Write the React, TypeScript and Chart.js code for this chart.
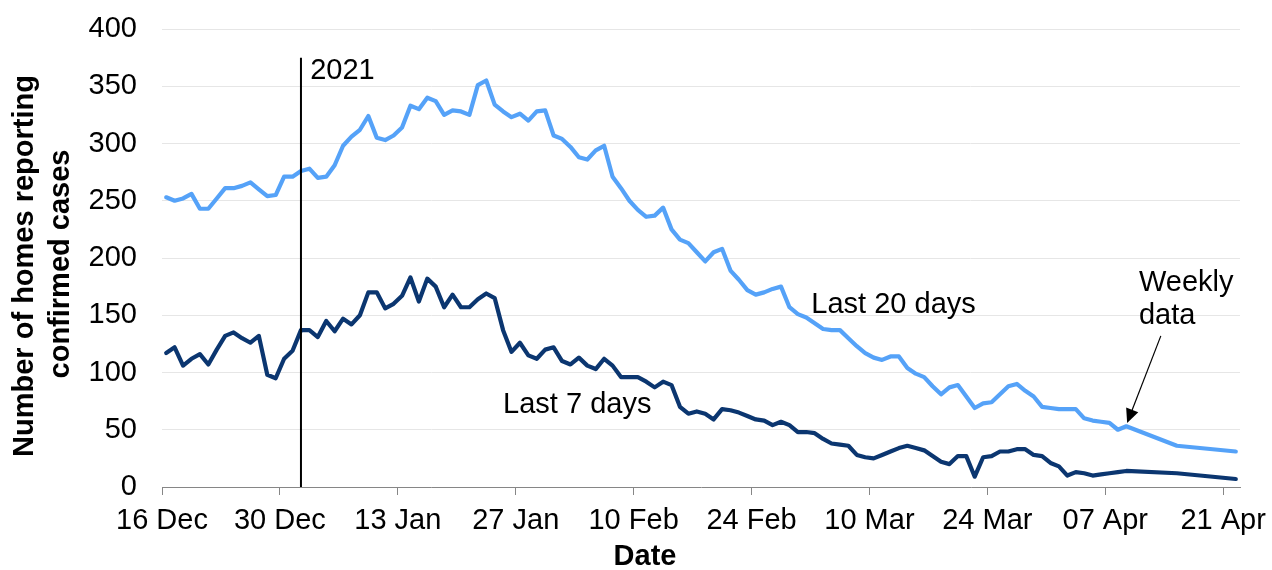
import { useEffect, useRef } from 'react';
import { Chart, registerables } from 'chart.js';

Chart.register(...registerables);

// X axis: days since 16 Dec 2020 (axis covers 16 Dec .. 22 Apr, 128 days)
const tickLabels = ['16 Dec', '30 Dec', '13 Jan', '27 Jan', '10 Feb', '24 Feb', '10 Mar', '24 Mar', '07 Apr', '21 Apr'];
const tickDays = [0, 14, 28, 42, 56, 70, 84, 98, 112, 126];
const axisDays = 128;

// Daily values, one per day from 16 Dec (day 0) to 9 Apr (day 114)
const last20Daily = [
  253, 250, 252, 256, 243, 243, 252, 261, 261, 263,
  266, 260, 254, 255, 271, 271, 276, 278, 270, 271,
  281, 298, 306, 312, 324, 305, 303, 307, 314, 333,
  330, 340, 337, 325, 329, 328, 325, 351, 355, 334,
  328, 323, 326, 320, 328, 329, 307, 304, 297, 288,
  286, 294, 298, 271, 261, 250, 242, 236, 237, 244,
  225, 216, 213, 205, 197, 205, 208, 189, 181, 172,
  168, 170, 173, 175, 157, 151, 148, 143, 138, 137,
  137, 130, 123, 117, 113, 111, 114, 114, 104, 99,
  96, 88, 81, 87, 89, 79, 69, 73, 74, 81,
  88, 90, 84, 79, 70, 69, 68, 68, 68, 60,
  58, 57, 56, 50, 53,
];

const last7Daily = [
  117, 122, 106, 112, 116, 107, 120, 132, 135, 130,
  126, 132, 98, 95, 112, 119, 137, 137, 131, 145,
  136, 147, 142, 150, 170, 170, 156, 160, 167, 183,
  162, 182, 175, 157, 168, 157, 157, 164, 169, 165,
  137, 118, 126, 115, 112, 120, 122, 110, 107, 113,
  106, 103, 112, 106, 96, 96, 96, 92, 87, 92,
  89, 70, 64, 66, 64, 59, 68, 67, 65, 62,
  59, 58, 54, 57, 54, 48, 48, 47, 42, 38,
  37, 36, 28, 26, 25, 28, 31, 34, 36, 34,
  32, 27, 22, 20, 27, 27, 9, 26, 27, 31,
  31, 33, 33, 28, 27, 21, 18, 10, 13, 12,
  10, 11, 12, 13, 14,
];

// Weekly data after the daily series
const weeklyDays = [120, 127];
const last20Weekly = [36, 31];
const last7Weekly = [12, 7];

const yTicksMax = 400;
const yTicksStep = 50;

// Annotation settings (in data units)
const yearLine = { day: 16.5, top: 375, text: '2021', textDay: 17.6, textValue: 363 };
const seriesLabels = [
  { text: 'Last 20 days', day: 77.1, value: 159 },
  { text: 'Last 7 days', day: 40.5, value: 71.6 },
  { text: 'Weekly', day: 116, value: 178 },
  { text: 'data', day: 116, value: 149.5 },
];
const arrow = { fromDay: 118.6, fromValue: 132, toDay: 114.6, toValue: 56 };

const FONT = '"Liberation Sans", Arial, Helvetica, sans-serif';

const toPoints = (daily: number[], wDays: number[], wVals: number[]) => [
  ...daily.map((v, i) => ({ x: i + 0.5, y: v })),
  ...wDays.map((d, i) => ({ x: d + 0.5, y: wVals[i] })),
];

const annotationPlugin = {
  id: 'annotations',
  afterDatasetsDraw(chart: any) {
    const { ctx, scales, chartArea } = chart;
    const x = scales.x;
    const y = scales.y;
    ctx.save();

    // 2021 vertical line
    const lx = x.getPixelForValue(yearLine.day);
    ctx.strokeStyle = '#000';
    ctx.lineWidth = 2;
    ctx.beginPath();
    ctx.moveTo(lx, y.getPixelForValue(yearLine.top));
    ctx.lineTo(lx, chartArea.bottom);
    ctx.stroke();

    ctx.fillStyle = '#000';
    ctx.font = `29px ${FONT}`;
    ctx.textAlign = 'left';
    ctx.textBaseline = 'middle';
    ctx.fillText(yearLine.text, x.getPixelForValue(yearLine.textDay), y.getPixelForValue(yearLine.textValue));

    for (const l of seriesLabels) {
      ctx.fillText(l.text, x.getPixelForValue(l.day), y.getPixelForValue(l.value));
    }

    // Arrow
    const ax1 = x.getPixelForValue(arrow.fromDay);
    const ay1 = y.getPixelForValue(arrow.fromValue);
    const ax2 = x.getPixelForValue(arrow.toDay);
    const ay2 = y.getPixelForValue(arrow.toValue);
    const ang = Math.atan2(ay2 - ay1, ax2 - ax1);
    const headLen = 14;
    const headHalf = 6.5;
    ctx.lineWidth = 1.2;
    ctx.beginPath();
    ctx.moveTo(ax1, ay1);
    ctx.lineTo(ax2 - Math.cos(ang) * headLen * 0.8, ay2 - Math.sin(ang) * headLen * 0.8);
    ctx.stroke();
    const bx = ax2 - Math.cos(ang) * headLen;
    const by = ay2 - Math.sin(ang) * headLen;
    ctx.beginPath();
    ctx.moveTo(ax2, ay2);
    ctx.lineTo(bx + Math.sin(ang) * headHalf, by - Math.cos(ang) * headHalf);
    ctx.lineTo(bx - Math.sin(ang) * headHalf, by + Math.cos(ang) * headHalf);
    ctx.closePath();
    ctx.fill();

    // Axis titles
    ctx.font = `bold 29px ${FONT}`;
    ctx.textAlign = 'center';
    ctx.fillText('Date', 645, 557);

    ctx.save();
    ctx.translate(24.5, 266);
    ctx.rotate(-Math.PI / 2);
    ctx.fillText('Number of homes reporting', 0, 0);
    ctx.restore();
    ctx.save();
    ctx.translate(61, 264);
    ctx.rotate(-Math.PI / 2);
    ctx.fillText('confirmed cases', 0, 0);
    ctx.restore();

    ctx.restore();
  },
};

export default function App() {
  const canvasRef = useRef<HTMLCanvasElement | null>(null);

  useEffect(() => {
    if (!canvasRef.current) return;
    const chart = new Chart(canvasRef.current, {
      type: 'line',
      data: {
        datasets: [
          {
            label: 'Last 20 days',
            data: toPoints(last20Daily, weeklyDays, last20Weekly),
            borderColor: '#55a2f8',
            backgroundColor: '#55a2f8',
            borderWidth: 4.2,
            pointRadius: 0,
            tension: 0,
            borderJoinStyle: 'round',
            borderCapStyle: 'round',
          },
          {
            label: 'Last 7 days',
            data: toPoints(last7Daily, weeklyDays, last7Weekly),
            borderColor: '#0b3670',
            backgroundColor: '#0b3670',
            borderWidth: 4.2,
            pointRadius: 0,
            tension: 0,
            borderJoinStyle: 'round',
            borderCapStyle: 'round',
          },
        ],
      },
      options: {
        responsive: false,
        maintainAspectRatio: false,
        animation: false,
        layout: { padding: { top: 29, right: 32, bottom: 0, left: 0 } },
        plugins: {
          legend: { display: false },
          tooltip: { enabled: false },
        },
        scales: {
          x: {
            type: 'linear',
            min: 0,
            max: axisDays,
            afterBuildTicks: (s: any) => {
              s.ticks = tickDays.map((v) => ({ value: v }));
            },
            afterFit: (s: any) => {
              s.height = 83;
            },
            ticks: {
              autoSkip: false,
              maxRotation: 0,
              minRotation: 0,
              padding: 1,
              color: '#000',
              font: { family: FONT, size: 29, lineHeight: 1.72 },
              callback: (v: any) => {
                const i = tickDays.indexOf(Number(v));
                return i >= 0 ? tickLabels[i] : '';
              },
            },
            grid: {
              display: true,
              drawOnChartArea: false,
              drawTicks: true,
              tickLength: 8,
              color: '#868686',
              lineWidth: 1,
            },
            border: { display: true, color: '#868686', width: 1 },
          },
          y: {
            min: 0,
            max: yTicksMax,
            afterFit: (s: any) => {
              s.width = 162;
            },
            ticks: {
              stepSize: yTicksStep,
              padding: 3,
              color: '#000',
              font: { family: FONT, size: 29 },
            },
            grid: {
              drawTicks: true,
              tickLength: 22,
              tickColor: 'rgba(0,0,0,0)',
              lineWidth: 1,
              color: (c: any) => (c.tick && c.tick.value === 0 ? 'rgba(0,0,0,0)' : '#e6e6e6'),
            },
            border: { display: false },
          },
        },
      },
      plugins: [annotationPlugin],
    } as any);
    return () => chart.destroy();
  }, []);

  return (
    <div style={{ position: 'absolute', left: 0, top: 0, width: 1272, height: 570, background: '#fff' }}>
      <canvas ref={canvasRef} width={1272} height={570} style={{ width: 1272, height: 570, display: 'block' }} />
    </div>
  );
}
